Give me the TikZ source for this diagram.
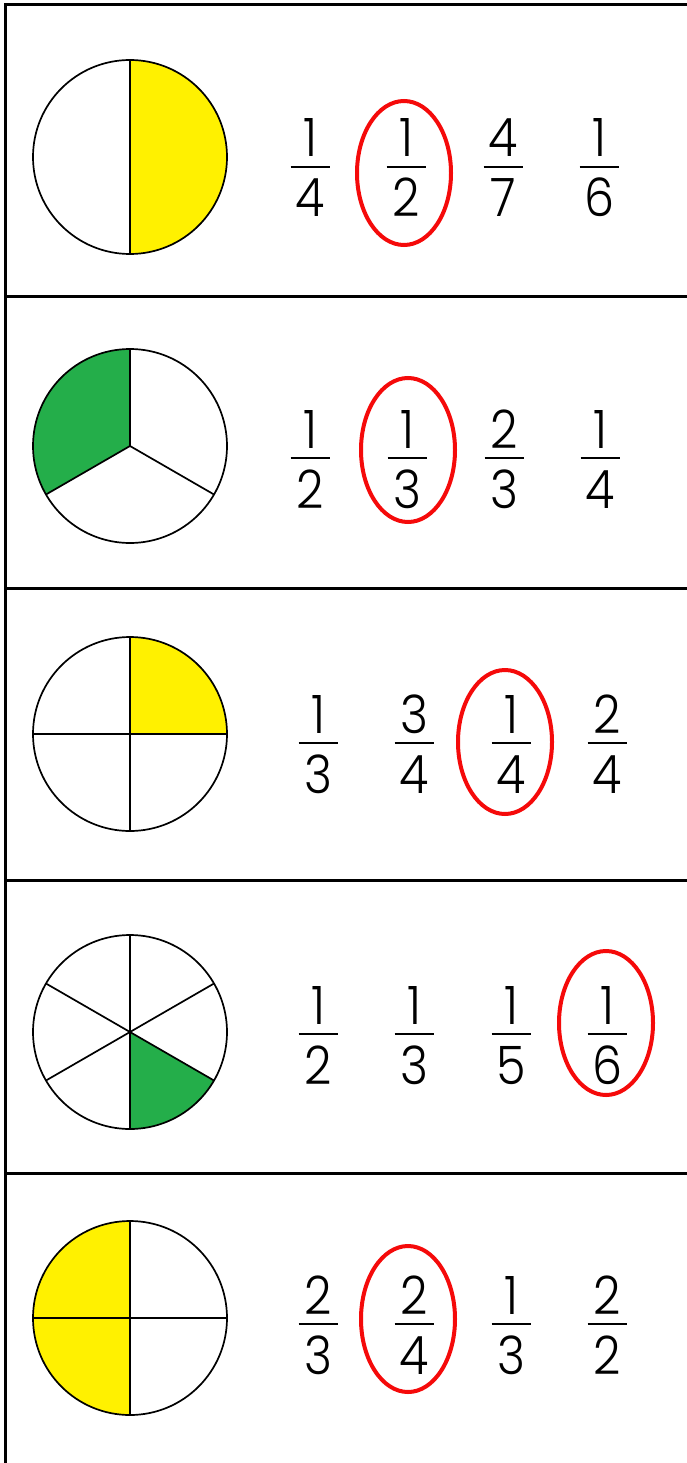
\documentclass[tikz,border=0pt]{standalone}
\usepackage{fontspec}
\IfFontExistsTF{Poppins Light}{\setmainfont{Poppins Light}[FakeStretch=0.9]}{\setmainfont{Poppins}[FakeStretch=0.88]}
\definecolor{pieyellow}{HTML}{FFF100}
\definecolor{piegreen}{HTML}{24AE4A}
\definecolor{ringred}{HTML}{F50A0A}
\newcommand{\fracat}[5]{%
  \node[digit] (#1n) at (#2,#3-10) {#4};
  \node[digit, anchor=base] (#1d) at (#2,#3+50) {#5};
  \draw[fracbar] (#2-19.5,#3) -- (#2+19.5,#3);
}
\begin{document}
\begin{tikzpicture}[x=1pt,y=-1pt,
  digit/.style={anchor=base, inner sep=0pt, font=\fontsize{53}{60}\selectfont},
  fracbar/.style={line width=2.4pt},
  frame/.style={line width=3pt, line cap=rect},
  pieline/.style={line width=1.7pt},
  ring/.style={draw=ringred, line width=4pt}]
\useasboundingbox (0,0) rectangle (687,1463);
\fill[white] (0,0) rectangle (687,1463);
% frame
\draw[frame] (5,1470) -- (5,5) -- (690,5);
\foreach \yy in {296,588,880,1173} \draw[frame] (5,\yy) -- (690,\yy);

% row 1 pie: half
\begin{scope}[shift={(130,157)}, yscale=-1]
  \fill[pieyellow] (0,0) -- (-90:97) arc[start angle=-90, end angle=90, radius=97] -- cycle;
  \draw[pieline] (0,0) circle[radius=97];
  \draw[pieline] (90:97) -- (-90:97);
\end{scope}
% row 2 pie: thirds
\begin{scope}[shift={(130,446)}, yscale=-1]
  \fill[piegreen] (0,0) -- (90:97) arc[start angle=90, end angle=210, radius=97] -- cycle;
  \draw[pieline] (0,0) circle[radius=97];
  \foreach \a in {90,210,330} \draw[pieline] (0,0) -- (\a:97);
\end{scope}
% row 3 pie: quarter
\begin{scope}[shift={(130,734)}, yscale=-1]
  \fill[pieyellow] (0,0) -- (0:97) arc[start angle=0, end angle=90, radius=97] -- cycle;
  \draw[pieline] (0,0) circle[radius=97];
  \draw[pieline] (90:97) -- (-90:97);
  \draw[pieline] (0:97) -- (180:97);
\end{scope}
% row 4 pie: sixths
\begin{scope}[shift={(130,1032)}, yscale=-1]
  \fill[piegreen] (0,0) -- (-90:97) arc[start angle=-90, end angle=-30, radius=97] -- cycle;
  \draw[pieline] (0,0) circle[radius=97];
  \foreach \a in {30,90,150,210,270,330} \draw[pieline] (0,0) -- (\a:97);
\end{scope}
% row 5 pie: two quarters
\begin{scope}[shift={(130,1318)}, yscale=-1]
  \fill[pieyellow] (0,0) -- (90:97) arc[start angle=90, end angle=270, radius=97] -- cycle;
  \draw[pieline] (0,0) circle[radius=97];
  \draw[pieline] (90:97) -- (-90:97);
  \draw[pieline] (0:97) -- (180:97);
\end{scope}

% fractions row 1
\fracat{aa}{310}{167}{1}{4}
\fracat{ab}{406}{167}{1}{2}
\fracat{ac}{503}{167}{4}{7}
\fracat{ad}{599}{167}{1}{6}
\draw[ring] (404,173) ellipse[x radius=47, y radius=72];
% row 2
\fracat{ba}{310}{458}{1}{2}
\fracat{bb}{407}{458}{1}{3}
\fracat{bc}{504}{458}{2}{3}
\fracat{bd}{600}{458}{1}{4}
\draw[ring] (408,450) ellipse[x radius=47, y radius=72];
% row 3
\fracat{ca}{318}{743}{1}{3}
\fracat{cb}{414}{743}{3}{4}
\fracat{cc}{511}{743}{1}{4}
\fracat{cd}{607}{743}{2}{4}
\draw[ring] (505,742) ellipse[x radius=47, y radius=72];
% row 4
\fracat{da}{318}{1034}{1}{2}
\fracat{db}{414}{1034}{1}{3}
\fracat{dc}{511}{1034}{1}{5}
\fracat{dd}{607}{1034}{1}{6}
\draw[ring] (606,1023) ellipse[x radius=47, y radius=72];
% row 5
\fracat{ea}{318}{1324}{2}{3}
\fracat{eb}{414}{1324}{2}{4}
\fracat{ec}{511}{1324}{1}{3}
\fracat{ed}{607}{1324}{2}{2}
\draw[ring] (408,1319) ellipse[x radius=47, y radius=73];
\end{tikzpicture}
\end{document}
